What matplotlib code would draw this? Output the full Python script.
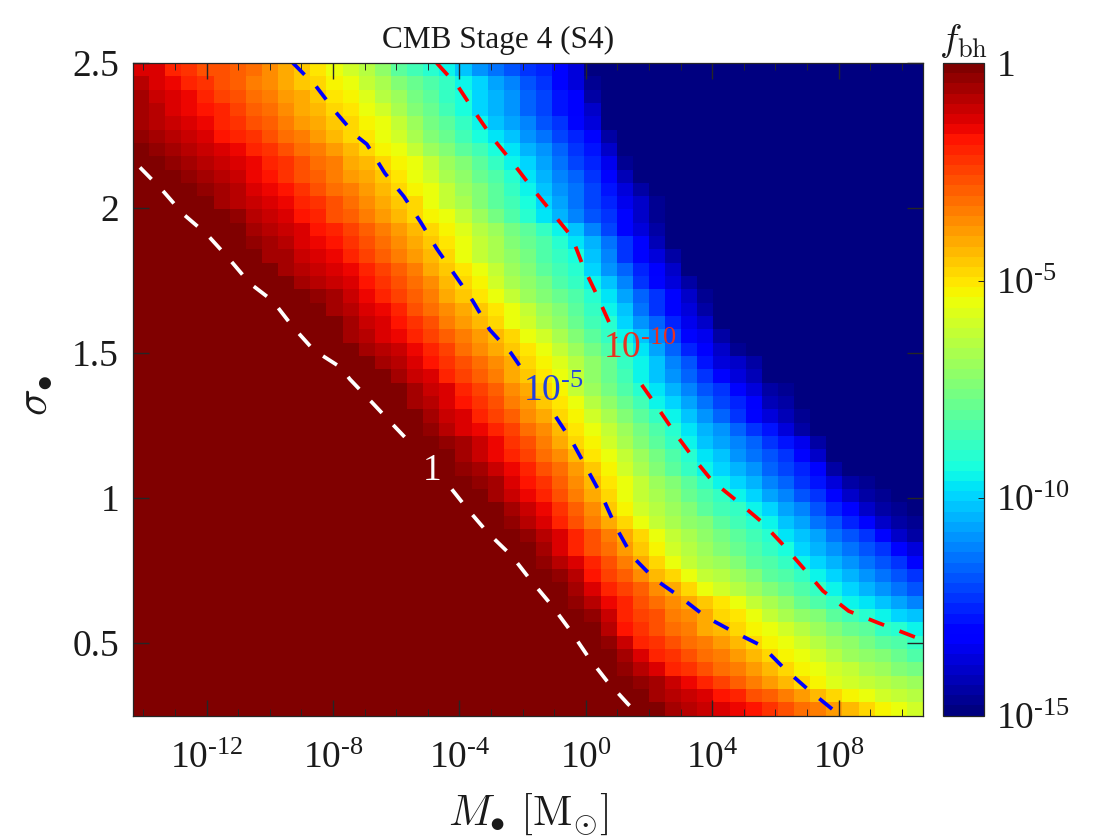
import numpy as np
import matplotlib
matplotlib.use('Agg')
import matplotlib.pyplot as plt
from matplotlib.colors import LogNorm

plt.rcParams['font.family'] = ['Liberation Serif', 'DejaVu Serif']
plt.rcParams['mathtext.fontset'] = 'custom'
plt.rcParams['mathtext.rm'] = 'Liberation Serif'
plt.rcParams['mathtext.it'] = 'Liberation Serif:italic'
plt.rcParams['mathtext.bf'] = 'Liberation Serif:bold'
plt.rcParams['mathtext.fallback'] = 'cm'

# -log10(f_bh), row by row from the top (sigma = 2.5) down.
# zeros_left = saturated cells (f = 1) before each row, cells after it are 10^-15
zeros_left = [0, 0, 0, 0, 0, 0, 0, 2, 3, 4, 4, 5, 6, 7, 7, 8, 9, 10, 11, 12, 12, 13, 14, 15, 16,
              16, 17, 17, 19, 19, 20, 21, 21, 22, 23, 24, 24, 25, 26, 26, 27, 28, 28, 29, 29, 30, 31, 31, 32]

log_f_rows = [
    [1.2, 1.4, 1.9, 2.2, 2.6, 2.8, 3.0, 3.2, 3.7, 4.0, 4.5, 5.0, 5.4, 5.9, 6.5, 7.2, 8.0, 8.5, 9.0, 9.6, 10.2, 11.0, 11.4, 11.9, 12.2, 12.5, 13.1, 13.8],
    [0.9, 1.3, 1.6, 1.9, 2.3, 2.6, 3.0, 3.4, 3.7, 4.1, 4.5, 4.8, 5.2, 5.6, 6.2, 6.7, 7.3, 7.8, 8.4, 8.9, 9.5, 10.0, 10.6, 11.2, 11.8, 12.4, 13.0, 13.7, 14.7],
    [0.7, 1.1, 1.3, 1.6, 2.0, 2.4, 2.8, 3.1, 3.5, 3.9, 4.2, 4.6, 5.0, 5.3, 5.7, 6.4, 7.0, 7.6, 8.2, 8.8, 9.3, 9.9, 10.5, 11.0, 11.6, 12.1, 12.7, 13.2, 14.3],
    [0.6, 0.9, 1.2, 1.5, 1.7, 2.1, 2.5, 2.9, 3.2, 3.6, 4.0, 4.4, 4.8, 5.1, 5.5, 6.0, 6.7, 7.3, 7.9, 8.5, 9.2, 9.9, 10.5, 11.0, 11.6, 12.1, 12.7, 13.2, 14.0],
    [0.5, 0.8, 1.1, 1.4, 1.6, 1.9, 2.3, 2.6, 3.0, 3.4, 3.8, 4.1, 4.5, 4.9, 5.2, 5.6, 6.3, 6.9, 7.6, 8.2, 8.9, 9.5, 10.1, 10.6, 11.2, 11.8, 12.3, 12.9, 13.8],
    [0.3, 0.6, 0.9, 1.1, 1.4, 1.7, 1.9, 2.3, 2.7, 3.1, 3.5, 3.9, 4.3, 4.7, 5.0, 5.4, 6.0, 6.6, 7.3, 7.9, 8.5, 9.2, 9.8, 10.3, 10.9, 11.4, 12.0, 12.5, 13.1, 14.3],
    [0.1, 0.4, 0.7, 0.9, 1.1, 1.3, 1.6, 1.9, 2.3, 2.7, 3.1, 3.5, 3.9, 4.4, 4.8, 5.2, 5.6, 6.2, 6.8, 7.4, 8.0, 8.6, 9.2, 9.8, 10.4, 11.0, 11.6, 12.2, 12.8, 14.0],
    [0.3, 0.6, 0.8, 1.1, 1.4, 1.6, 1.9, 2.3, 2.7, 3.1, 3.5, 4.0, 4.4, 4.8, 5.2, 5.6, 6.2, 6.9, 7.5, 8.1, 8.8, 9.4, 10.0, 10.7, 11.3, 12.0, 12.6, 13.5, 14.7],
    [0.3, 0.6, 0.9, 1.1, 1.5, 1.8, 2.2, 2.6, 3.0, 3.4, 3.8, 4.2, 4.6, 5.0, 5.4, 5.9, 6.6, 7.2, 7.8, 8.4, 9.0, 9.7, 10.4, 11.1, 11.7, 12.4, 13.1, 14.1],
    [0.3, 0.6, 0.9, 1.2, 1.5, 1.8, 2.2, 2.6, 3.1, 3.5, 3.9, 4.3, 4.7, 5.2, 5.6, 6.2, 6.9, 7.5, 8.1, 8.8, 9.4, 10.1, 10.8, 11.4, 12.1, 12.8, 13.7, 14.4],
    [0.2, 0.5, 0.8, 1.1, 1.4, 1.6, 1.9, 2.3, 2.8, 3.2, 3.6, 4.0, 4.5, 4.9, 5.4, 6.1, 6.7, 7.4, 8.0, 8.6, 9.2, 10.0, 10.7, 11.3, 12.0, 12.6, 13.4, 14.0, 14.6],
    [0.2, 0.4, 0.8, 1.1, 1.4, 1.7, 2.1, 2.6, 3.0, 3.4, 3.9, 4.3, 4.8, 5.2, 5.6, 6.3, 7.0, 7.7, 8.4, 9.0, 9.7, 10.4, 11.1, 11.8, 12.4, 13.1, 14.0, 14.6],
    [0.2, 0.5, 0.8, 1.1, 1.4, 1.7, 2.0, 2.5, 3.0, 3.4, 3.9, 4.4, 4.8, 5.3, 5.8, 6.4, 7.0, 7.6, 8.2, 8.8, 9.4, 10.3, 11.1, 12.0, 12.9, 13.8, 14.4],
    [0.3, 0.6, 0.9, 1.2, 1.5, 1.8, 2.2, 2.7, 3.2, 3.6, 4.1, 4.6, 5.1, 5.6, 6.2, 6.7, 7.3, 7.9, 8.4, 9.0, 9.7, 10.5, 11.4, 12.2, 13.1, 14.1],
    [0.2, 0.5, 0.7, 1.0, 1.3, 1.6, 1.9, 2.4, 2.9, 3.4, 3.9, 4.4, 4.9, 5.4, 6.1, 6.6, 7.2, 7.7, 8.3, 8.8, 9.3, 10.2, 11.2, 12.2, 13.1, 13.7, 14.4],
    [0.2, 0.5, 0.8, 1.0, 1.3, 1.6, 1.9, 2.4, 3.0, 3.5, 4.0, 4.5, 5.1, 5.6, 6.2, 6.8, 7.4, 8.0, 8.5, 9.1, 9.9, 10.8, 11.7, 12.5, 13.3, 14.0],
    [0.2, 0.5, 0.8, 1.1, 1.4, 1.8, 2.2, 2.7, 3.2, 3.7, 4.3, 4.8, 5.3, 6.0, 6.6, 7.1, 7.7, 8.3, 8.8, 9.4, 10.3, 11.2, 12.2, 13.1, 13.7, 14.4],
    [0.2, 0.4, 0.7, 1.1, 1.5, 1.9, 2.4, 3.0, 3.5, 4.0, 4.6, 5.1, 5.6, 6.2, 6.8, 7.3, 7.9, 8.4, 9.0, 9.8, 10.6, 11.5, 12.3, 13.1, 14.0, 14.6],
    [0.2, 0.5, 0.8, 1.2, 1.6, 2.0, 2.6, 3.1, 3.6, 4.1, 4.6, 5.1, 5.6, 6.2, 6.9, 7.5, 8.1, 8.8, 9.4, 10.3, 11.3, 12.2, 13.1, 13.7, 14.4],
    [0.2, 0.6, 1.0, 1.4, 1.7, 2.2, 2.8, 3.3, 3.8, 4.4, 4.9, 5.4, 6.0, 6.6, 7.2, 7.8, 8.5, 9.1, 9.9, 10.8, 11.7, 12.6, 13.4, 14.0],
    [0.2, 0.5, 0.9, 1.2, 1.6, 1.9, 2.4, 2.9, 3.4, 3.9, 4.4, 4.9, 5.4, 6.0, 6.7, 7.4, 8.1, 8.7, 9.4, 10.3, 11.1, 12.0, 12.9, 13.4, 14.4],
    [0.2, 0.5, 0.8, 1.1, 1.5, 2.0, 2.5, 3.1, 3.6, 4.1, 4.6, 5.1, 5.5, 6.2, 6.9, 7.6, 8.3, 8.9, 9.8, 10.7, 11.6, 12.5, 13.3, 14.0, 14.7],
    [0.2, 0.5, 0.9, 1.3, 1.7, 2.2, 2.7, 3.2, 3.7, 4.2, 4.7, 5.2, 5.8, 6.5, 7.2, 7.9, 8.7, 9.4, 10.2, 11.1, 11.9, 12.7, 13.6, 14.0, 14.5],
    [0.2, 0.6, 1.0, 1.4, 1.9, 2.4, 2.9, 3.5, 4.0, 4.5, 5.0, 5.5, 6.3, 7.1, 7.9, 8.6, 9.4, 10.1, 10.9, 11.6, 12.4, 13.1, 13.6, 14.1, 14.8],
    [0.2, 0.6, 1.0, 1.4, 1.9, 2.5, 3.0, 3.6, 4.2, 4.7, 5.3, 6.1, 6.9, 7.6, 8.3, 9.0, 9.7, 10.4, 11.1, 11.8, 12.4, 13.1, 13.8, 14.4, 14.7],
    [0.1, 0.5, 0.9, 1.3, 1.7, 2.2, 2.8, 3.4, 3.9, 4.5, 5.0, 5.6, 6.4, 7.1, 7.9, 8.6, 9.4, 10.0, 10.7, 11.3, 12.0, 12.6, 13.3, 14.1, 14.5],
    [0.2, 0.6, 1.0, 1.4, 1.9, 2.5, 3.0, 3.6, 4.1, 4.7, 5.2, 6.0, 6.7, 7.4, 8.1, 8.7, 9.4, 10.1, 10.8, 11.6, 12.3, 13.0, 13.6, 14.1, 14.7],
    [0.1, 0.4, 0.8, 1.2, 1.6, 1.9, 2.5, 3.1, 3.7, 4.3, 5.0, 5.6, 6.3, 7.0, 7.7, 8.4, 9.1, 9.8, 10.4, 11.0, 11.6, 12.2, 12.8, 13.6, 14.5],
    [0.3, 0.7, 1.1, 1.6, 2.2, 2.8, 3.5, 4.1, 4.7, 5.3, 6.0, 6.7, 7.4, 8.1, 8.8, 9.6, 10.2, 10.7, 11.2, 11.7, 12.3, 12.8, 13.4, 14.5],
    [0.2, 0.6, 1.0, 1.5, 1.9, 2.5, 3.1, 3.7, 4.4, 5.0, 5.6, 6.3, 7.0, 7.7, 8.3, 9.0, 9.7, 10.2, 10.8, 11.3, 11.8, 12.3, 12.9, 14.0],
    [0.3, 0.7, 1.1, 1.5, 1.9, 2.6, 3.2, 3.9, 4.6, 5.3, 5.9, 6.6, 7.3, 8.0, 8.7, 9.4, 9.9, 10.4, 10.9, 11.5, 12.0, 12.6, 13.1, 14.5, 14.8],
    [0.3, 0.7, 1.2, 1.7, 2.3, 3.0, 3.6, 4.3, 5.0, 5.6, 6.2, 6.9, 7.5, 8.1, 8.8, 9.4, 10.0, 10.5, 11.1, 11.7, 12.2, 12.8, 13.7, 14.4, 14.7],
    [0.2, 0.6, 1.0, 1.5, 1.9, 2.6, 3.4, 4.1, 4.9, 5.6, 6.1, 6.7, 7.2, 7.8, 8.3, 8.9, 9.4, 10.0, 10.6, 11.2, 11.8, 12.3, 12.9, 14.0, 14.5, 14.7],
    [0.2, 0.6, 1.1, 1.6, 2.3, 3.0, 3.7, 4.5, 5.2, 6.0, 6.5, 7.0, 7.5, 8.1, 8.6, 8.9, 9.4, 10.0, 10.6, 11.2, 11.9, 12.5, 13.1, 14.0, 14.5, 14.7],
    [0.3, 0.8, 1.3, 1.9, 2.6, 3.4, 4.1, 4.9, 5.6, 6.1, 6.6, 7.1, 7.5, 8.0, 8.5, 9.0, 9.5, 10.1, 10.7, 11.3, 11.9, 12.5, 13.1, 14.0, 14.5, 14.7],
    [0.3, 0.8, 1.4, 2.1, 2.8, 3.5, 4.2, 4.9, 5.6, 6.1, 6.6, 7.1, 7.6, 8.1, 8.6, 9.1, 9.7, 10.2, 10.7, 11.3, 11.8, 12.4, 12.9, 14.0, 14.3],
    [0.2, 0.7, 1.3, 1.9, 2.6, 3.2, 3.9, 4.6, 5.2, 5.9, 6.4, 6.9, 7.4, 7.9, 8.4, 8.9, 9.3, 9.9, 10.4, 10.9, 11.4, 11.9, 12.4, 12.9, 13.6],
    [0.3, 0.8, 1.3, 1.9, 2.6, 3.4, 4.1, 4.9, 5.6, 6.1, 6.6, 7.0, 7.5, 8.0, 8.4, 8.9, 9.4, 9.9, 10.4, 10.9, 11.4, 11.9, 12.4, 12.9],
    [0.3, 0.9, 1.8, 2.4, 3.0, 3.7, 4.3, 4.9, 5.6, 6.1, 6.5, 7.0, 7.5, 8.0, 8.4, 8.9, 9.4, 9.9, 10.4, 10.9, 11.4, 11.9, 12.4],
    [0.2, 0.7, 1.3, 1.9, 2.5, 3.0, 3.6, 4.2, 4.8, 5.4, 5.9, 6.4, 6.9, 7.4, 7.9, 8.4, 8.9, 9.4, 9.9, 10.4, 10.9, 11.4, 11.9],
    [0.3, 0.9, 1.6, 2.1, 2.6, 3.1, 3.6, 4.1, 4.6, 5.1, 5.6, 6.1, 6.7, 7.2, 7.8, 8.3, 8.9, 9.4, 9.8, 10.3, 10.7, 11.2],
    [0.3, 1.0, 1.9, 2.4, 2.8, 3.3, 3.7, 4.2, 4.7, 5.1, 5.6, 6.1, 6.6, 7.1, 7.5, 8.0, 8.5, 9.0, 9.4, 9.9, 10.3],
    [0.2, 0.9, 1.7, 2.3, 2.7, 3.1, 3.5, 4.0, 4.4, 4.8, 5.2, 5.6, 6.0, 6.5, 6.9, 7.4, 7.8, 8.2, 8.7, 9.1, 9.6],
    [0.3, 1.1, 1.9, 2.3, 2.7, 3.1, 3.5, 3.9, 4.4, 4.8, 5.2, 5.6, 6.0, 6.4, 6.8, 7.2, 7.6, 8.0, 8.4, 8.9],
    [0.2, 0.7, 1.3, 1.9, 2.3, 2.7, 3.1, 3.5, 3.9, 4.3, 4.8, 5.2, 5.6, 6.0, 6.4, 6.8, 7.1, 7.5, 7.9, 8.3],
    [0.3, 0.8, 1.3, 1.9, 2.3, 2.7, 3.1, 3.5, 3.9, 4.3, 4.7, 5.2, 5.6, 5.9, 6.3, 6.6, 7.0, 7.3, 7.7],
    [0.3, 0.7, 1.1, 1.5, 1.9, 2.4, 2.9, 3.4, 3.9, 4.3, 4.8, 5.3, 5.7, 6.0, 6.2, 6.5, 6.7, 7.0],
    [0.2, 0.5, 0.8, 1.1, 1.4, 1.7, 2.1, 2.6, 3.0, 3.5, 3.9, 4.4, 4.8, 5.2, 5.6, 5.9, 6.1, 6.4],
    [0.2, 0.5, 0.8, 1.0, 1.3, 1.6, 1.8, 2.3, 2.7, 3.1, 3.5, 3.9, 4.4, 4.8, 5.2, 5.6, 5.9],
]

# contour lines: log10(M), sigma. Split where the inline label sits
white_x1 = [-14.11, -13.39, -12.75, -12.0, -11.33, -10.63, -9.91, -9.27, -8.61, -7.75, -7.47, -6.77, -6.08, -5.38]
white_y1 = [2.14, 2.06, 1.98, 1.91, 1.83, 1.74, 1.68, 1.59, 1.51, 1.45, 1.41, 1.33, 1.25, 1.17]
white_x2 = [-4.24, -3.73, -3.10, -2.34, -1.77, -1.08, -0.47, 0.09, 0.66, 1.33, 1.71]
white_y2 = [1.03, 0.96, 0.88, 0.80, 0.72, 0.63, 0.54, 0.45, 0.37, 0.29, 0.25]

blue_x1 = [-9.27, -8.54, -7.91, -7.28, -6.93, -6.36, -5.76, -5.22, -4.72, -4.15, -3.58, -3.04, -2.37, -1.80]
blue_y1 = [2.5, 2.42, 2.33, 2.25, 2.22, 2.12, 2.04, 1.95, 1.86, 1.77, 1.68, 1.58, 1.50, 1.41]
blue_x2 = [-0.95, -0.41, 0.09, 0.54, 0.95, 1.46, 2.18, 2.97, 3.80, 4.65, 5.57, 6.30, 7.03, 7.82, 8.26]
blue_y2 = [1.28, 1.19, 1.09, 1.0, 0.90, 0.80, 0.72, 0.66, 0.59, 0.54, 0.49, 0.41, 0.34, 0.27, 0.25]

red_x1 = [-4.72, -4.05, -3.51, -2.94, -2.34, -1.71, -1.11, -0.44, -0.09, 0.35, 0.76, 0.95]
red_y1 = [2.5, 2.42, 2.33, 2.24, 2.16, 2.07, 1.99, 1.90, 1.80, 1.70, 1.60, 1.55]
red_x2 = [1.77, 2.22, 2.78, 3.39, 3.99, 4.78, 5.54, 6.23, 6.87, 7.50, 8.32, 9.24, 10.19, 10.66]
red_y2 = [1.39, 1.32, 1.23, 1.14, 1.06, 0.99, 0.92, 0.84, 0.76, 0.68, 0.61, 0.57, 0.53, 0.51]

x_major = [1e-12, 1e-8, 1e-4, 1e0, 1e4, 1e8]
x_labels = ['10$^{\\text{-12}}$', '10$^{\\text{-8}}$', '10$^{\\text{-4}}$', '10$^{\\text{0}}$', '10$^{\\text{4}}$', '10$^{\\text{8}}$']
y_major = [0.5, 1, 1.5, 2, 2.5]
y_labels = ['0.5', '1', '1.5', '2', '2.5']
cbar_ticks = [1e-15, 1e-10, 1e-5, 1]
cbar_labels = ['10$^{\\text{-15}}$', '10$^{\\text{-10}}$', '10$^{\\text{-5}}$', '1']

# build the 49 x 49 grid
n = 49
grid = np.full((n, n), 15.0)
for i in range(n):
    start = zeros_left[i]
    vals = log_f_rows[i]
    grid[i, :start] = 0
    grid[i, start:start + len(vals)] = vals[:n - start]
grid = grid[::-1]

x_edges = 10.0 ** np.linspace(-14.33, 10.67, n + 1)
y_edges = np.linspace(0.25, 2.5, n + 1)

fig = plt.figure(figsize=(11.2, 8.4), dpi=100)
ax = fig.add_axes([133 / 1120, (840 - 715.5) / 840, 790 / 1120, 652.5 / 840])
cax = fig.add_axes([943 / 1120, (840 - 715.5) / 840, 41 / 1120, 652.5 / 840])

cmap = plt.get_cmap('jet', 64)
norm = LogNorm(vmin=1e-15, vmax=1)
mesh = ax.pcolormesh(x_edges, y_edges, 10.0 ** (-grid), cmap=cmap, norm=norm, shading='flat')

dash = (0, (4.4, 4.4))
for xs, ys, col in [(white_x1, white_y1, 'white'), (white_x2, white_y2, 'white'),
                    (blue_x1, blue_y1, 'blue'), (blue_x2, blue_y2, 'blue'),
                    (red_x1, red_y1, 'red'), (red_x2, red_y2, 'red')]:
    ax.plot(10.0 ** np.array(xs), ys, color=col, linewidth=2.7, linestyle=dash, dash_capstyle='butt')

ax.set_xscale('log')
ax.set_xlim(x_edges[0], x_edges[-1])
ax.set_ylim(0.25, 2.5)
ax.set_xticks(x_major, x_labels)
ax.set_xticks(10.0 ** np.arange(-14, 11), minor=True, labels=[])
ax.set_yticks(y_major, y_labels)
ax.tick_params(which='major', direction='in', top=True, right=True, length=11.5, width=1.0,
               color='#262626', labelcolor='#1a1a1a', labelsize=27)
ax.tick_params(axis='x', which='major', pad=19)
ax.tick_params(axis='y', which='major', pad=10)
ax.tick_params(which='minor', direction='in', top=True, bottom=True, length=5, width=0.7, color='#262626')
ax.tick_params(axis='y', which='minor', left=False, right=False)
for s in ax.spines.values():
    s.set_color('#262626')
    s.set_linewidth(0.9)

ax.set_title('CMB Stage 4 (S4)', fontsize=22.5, color='#1a1a1a', x=(498.5 - 133) / 790, pad=10.8)
ax.set_xlabel(r'$M_{\bullet}\ [\mathrm{M}_{\odot}]$', fontsize=31, color='#1a1a1a', math_fontfamily='cm')
ax.xaxis.set_label_coords(0.5, -0.117)
ax.set_ylabel(r'$\sigma_{\bullet}$', fontsize=32, color='#1a1a1a', math_fontfamily='cm')
ax.yaxis.set_label_coords(-0.1, 0.49)

# inline contour labels
ax.text(10.0 ** -4.87, 1.093, '1', color='white', fontsize=27, ha='center', va='center')
ax.text(10.0 ** -1.04, 1.366, '10$^{\\text{-5}}$', color='#2040e0', fontsize=27, ha='center', va='center')
ax.text(10.0 ** 1.72, 1.514, '10$^{\\text{-10}}$', color='#e83020', fontsize=27, ha='center', va='center')

cbar = fig.colorbar(mesh, cax=cax)
cbar.set_ticks(cbar_ticks, labels=cbar_labels)
cbar.ax.minorticks_off()
cbar.ax.tick_params(direction='in', length=4.5, width=0.7, labelsize=27, pad=9, color='#262626', labelcolor='#1a1a1a')
cbar.outline.set_edgecolor('#262626')
cbar.outline.set_linewidth(0.9)
cax.set_title(r'$f_{\mathrm{bh}}$', fontsize=27, color='#1a1a1a', pad=9, math_fontfamily='cm')

fig.savefig('out.png', dpi=100)
